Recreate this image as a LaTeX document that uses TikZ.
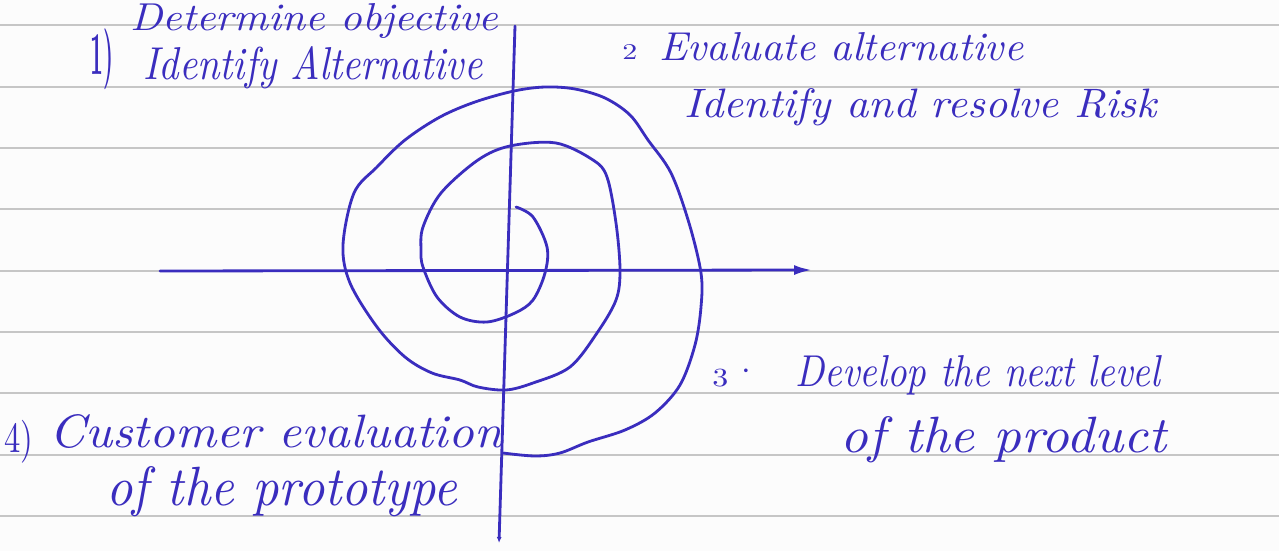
\documentclass[tikz,border=0pt]{standalone}
\usepackage{fontspec}
\usepackage{graphicx}
\usetikzlibrary{arrows.meta}
\definecolor{ink}{RGB}{58,45,190}
\definecolor{ruleline}{RGB}{198,198,198}
\definecolor{paper}{RGB}{252,252,252}
\newcommand{\hw}[3]{\resizebox{#1}{#2}{\itshape #3}}
\begin{document}
\begin{tikzpicture}[x=0.02cm,y=-0.02cm,
  inkline/.style={draw=ink,line width=1.6pt,line cap=round,line join=round},
  ruled/.style={draw=ruleline,line width=0.8pt},
  hwtext/.style={text=ink,inner sep=0pt,anchor=base west},
  hwnum/.style={text=ink,inner sep=0pt,anchor=north west}]
\fill[paper] (0,0) rectangle (1279,551);
\useasboundingbox (0,0) rectangle (1279,551);
% ruled paper
\foreach \y in {25,87,148,209,271,332,393,455,516}
  \draw[ruled] (0,\y) -- (1279,\y);
% texts
\node[hwnum] (n1) at (90,28) {\resizebox*{0.46cm}{1.22cm}{\bfseries 1)}};
\node[hwtext] (t1a) at (130,31) {\hw{7.36cm}{0.54cm}{Determine objective}};
\node[hwtext] (t1b) at (143,79) {\hw{6.78cm}{0.66cm}{Identify Alternative}};
\node[hwnum] (n2) at (622,44) {\resizebox*{0.3cm}{0.3cm}{2}};
\node[hwtext] (t2a) at (659,60) {\hw{7.28cm}{0.56cm}{Evaluate alternative}};
\node[hwtext] (t2b) at (684,117) {\hw{9.44cm}{0.58cm}{Identify and resolve Risk}};
\node[hwnum] (n3) at (712,369) {\resizebox*{0.32cm}{0.36cm}{3}};
\node[text=ink,inner sep=0pt,font=\bfseries\Large] (d3) at (746,374) {·};
\node[hwtext] (t3a) at (795,386) {\hw{7.3cm}{0.62cm}{Develop the next level}};
\node[hwtext] (t3b) at (840,452) {\hw{6.52cm}{0.72cm}{of the product}};
\node[hwnum] (n4) at (4,420) {\resizebox*{0.58cm}{0.86cm}{4)}};
\node[hwtext] (t4a) at (49,447) {\hw{9.06cm}{0.66cm}{Customer evaluation}};
\node[hwtext] (t4b) at (106,505) {\hw{7.02cm}{0.78cm}{of the prototype}};
% axes
\coordinate (vtop) at (515,26);
\coordinate (vbot) at (499,543);
\coordinate (hl) at (160,271);
\coordinate (hr) at (812,270);
\draw[inkline,-{Latex[length=0.12cm,width=0.1cm]}] (vtop) -- (vbot);
\draw[inkline,-{Latex[length=0.36cm,width=0.2cm]}] (hl) -- (hr);
% spiral
\draw[inkline] plot[smooth,tension=0.55] coordinates {
 (516,207) (533,217) (547,247) (545,273) (533,300) (515,313) (487,322)
 (460,317) (437,297) (423,267) (421,250) (423,227) (441,193) (478,160)
 (510,146) (556,143) (593,160) (607,177) (616,223) (620,270) (616,300)
 (597,333) (570,367) (533,383) (506,390) (478,387) (460,380) (432,373)
 (405,357) (377,327) (350,283) (343,245) (354,193) (377,167) (405,140)
 (440,117) (475,102) (514,91) (545,87) (575,89) (605,98) (630,115)
 (648,140) (671,173) (689,223) (701,273) (701,307) (695,345) (680,385)
 (655,413) (625,430) (588,442) (560,453) (535,456) (503,453)};
\end{tikzpicture}
\end{document}
